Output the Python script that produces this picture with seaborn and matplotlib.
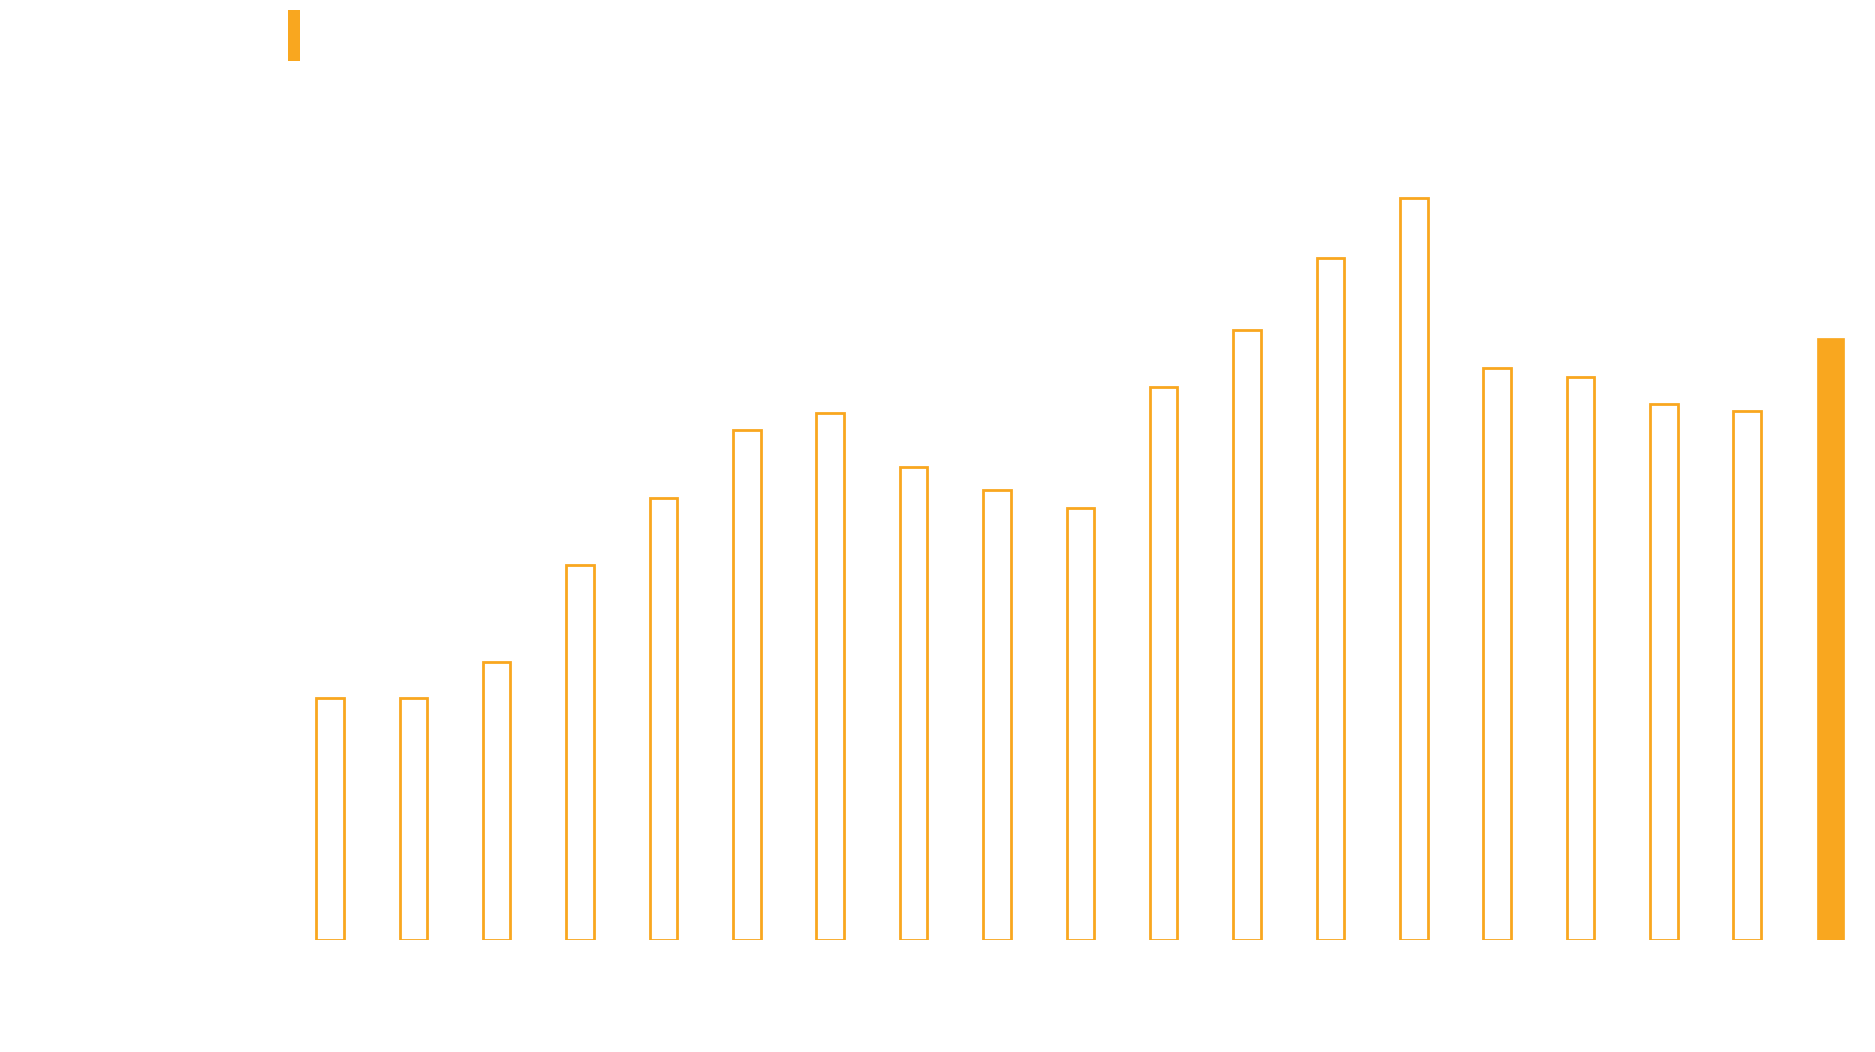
import matplotlib
matplotlib.use("Agg")
import matplotlib.pyplot as plt
import seaborn as sns
import pandas as pd
from matplotlib.patches import Patch

# ---- data (labels are not visible in the reference) ----
categories = [str(y) for y in range(2005, 2024)]
values = [20.2, 20.2, 23.2, 31.3, 36.9, 42.6, 44.0, 39.5, 37.6, 36.1,
          46.2, 51.0, 57.0, 62.0, 47.8, 47.0, 44.8, 44.2, 50.3]
highlight = [False] * 18 + [True]

ORANGE = "#F9A71F"

sns.set_theme(style="white")
plt.rcParams["font.family"] = ["DejaVu Sans"]

df = pd.DataFrame({"category": categories, "value": values, "highlight": highlight})

fig = plt.figure(figsize=(18.75, 10.52), dpi=100)
fig.patch.set_facecolor("white")
ax = fig.add_axes([288.3 / 1875, 0.1069, 0.8448, 0.7959])

sns.barplot(data=df, x="category", y="value", order=categories,
            color=ORANGE, fill=False, width=0.33, linewidth=2.0,
            edgecolor=ORANGE, ax=ax, errorbar=None)

# fill the highlighted bar
for patch, hl in zip(ax.patches, highlight):
    if hl:
        patch.set_fill(True)
        patch.set_facecolor(ORANGE)
        patch.set_edgecolor(ORANGE)
        patch.set_linewidth(0.5)

ax.set_xlim(-0.5, len(categories) - 0.5)
ax.set_ylim(0, 70)
ax.set_xlabel("")
ax.set_ylabel("")
ax.set_xticks([])
ax.set_yticks([])
for s in ax.spines.values():
    s.set_visible(False)
ax.set_facecolor("white")

# legend swatch at top-left (label text is white in the reference)
fig.legend(handles=[Patch(facecolor=ORANGE, edgecolor="none")], labels=[" "],
           loc="upper left", bbox_to_anchor=(288.0 / 1875, 1 - 10.0 / 1052),
           bbox_transform=fig.transFigure, frameon=False, fontsize=10,
           handlelength=0.885, handleheight=5.24, borderpad=0, borderaxespad=0,
           handletextpad=0.5, labelcolor="white")

fig.savefig("out.png", dpi=100, facecolor="white")
